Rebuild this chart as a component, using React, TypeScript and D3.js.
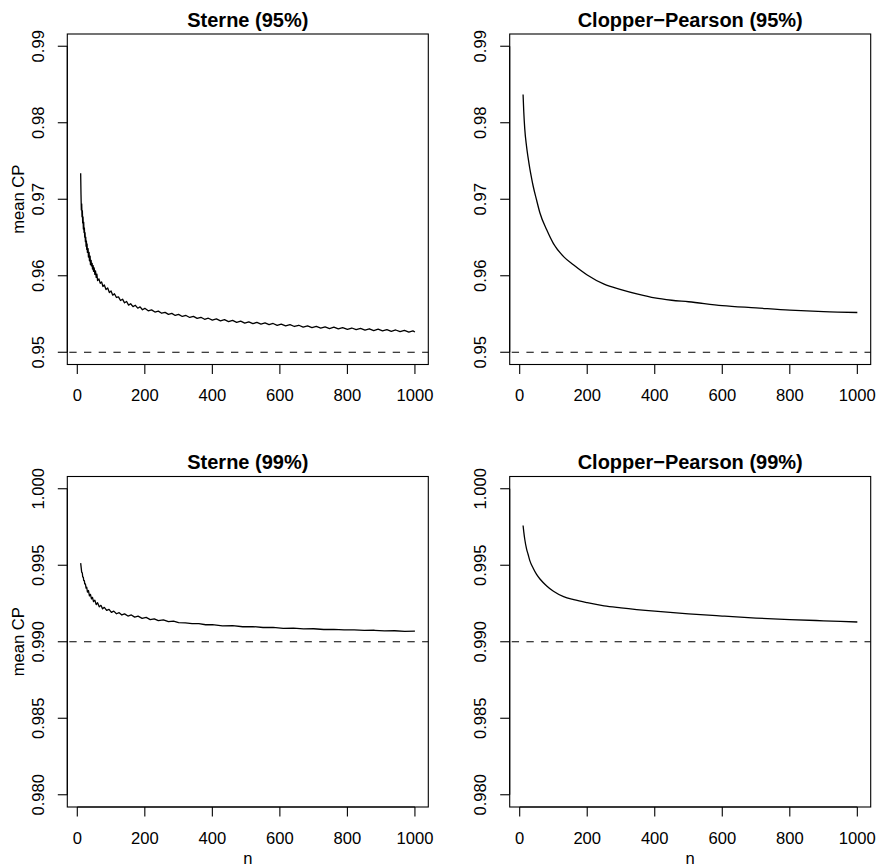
import React from 'react';
import * as d3 from 'd3';

const W = 878;
const H = 868;

// ---------- data ----------
const xTicks = [0, 200, 400, 600, 800, 1000];
const xTickLabels = ['0', '200', '400', '600', '800', '1000'];
const yTicks95 = [0.95, 0.96, 0.97, 0.98, 0.99];
const yTickLabels95 = ['0.95', '0.96', '0.97', '0.98', '0.99'];
const yTicks99 = [0.98, 0.985, 0.99, 0.995, 1.0];
const yTickLabels99 = ['0.980', '0.985', '0.990', '0.995', '1.000'];

const sterne95N = [
  10, 11, 12, 13, 14, 15, 16, 17, 18, 19, 20, 21, 22, 23, 24, 25, 26, 27, 28, 29, 30,
  32, 33, 35, 36, 38, 39, 41, 42, 44, 45, 47, 48, 50, 52, 54, 56, 58, 60,
  64, 68, 72, 76, 80, 85, 90, 95, 100, 105, 110, 116, 122, 128, 134, 140, 146, 152, 158, 165, 172, 179, 186, 193, 200,
  210, 220, 230, 240, 250, 260, 270, 280, 290, 300, 311, 322, 333, 344, 355, 366, 377, 388, 400,
  412, 424, 436, 448, 460, 472, 484, 496, 508, 520, 532, 544, 556, 568, 580, 592, 604, 617, 630, 643, 656, 669, 682, 695,
  708, 721, 734, 747, 760, 773, 786, 800, 813, 826, 839, 852, 865, 878, 891, 904, 917, 930, 943, 956, 969, 982, 994, 1000,
];
const sterne95CP = [
  0.9734, 0.9706, 0.9686, 0.9694, 0.9677, 0.9685, 0.9669, 0.9677, 0.9661, 0.967, 0.96565, 0.96625, 0.96505, 0.96565, 0.96445, 0.96505, 0.96385, 0.96455, 0.96345, 0.96415, 0.96305,
  0.96355, 0.96245, 0.96305, 0.96195, 0.96255, 0.96145, 0.96202, 0.96128, 0.96162, 0.96088, 0.96132, 0.96058, 0.96102, 0.96018, 0.96062, 0.95978, 0.96022, 0.95938,
  0.9596, 0.959, 0.9592, 0.9586, 0.9588, 0.9582, 0.9584, 0.9578, 0.958, 0.95746, 0.95764, 0.95716, 0.95724, 0.95676, 0.95694, 0.95646, 0.95664, 0.95616, 0.95634, 0.95596, 0.95614, 0.95576, 0.95594, 0.95556, 0.95574,
  0.95542, 0.95554, 0.95526, 0.95538, 0.9551, 0.95522, 0.95495, 0.95508, 0.95481, 0.95495, 0.95468, 0.95481, 0.95455, 0.95469, 0.95443, 0.95457, 0.95431, 0.95445, 0.9542,
  0.95436, 0.95411, 0.95426, 0.95401, 0.95416, 0.95391, 0.95406, 0.95381, 0.95398, 0.95374, 0.9539, 0.95367, 0.95383, 0.9536, 0.95376, 0.95352, 0.95369, 0.95345, 0.95361, 0.95337, 0.95353, 0.95329, 0.95345, 0.95321,
  0.95338, 0.95316, 0.95333, 0.9531, 0.95328, 0.95305, 0.95323, 0.953, 0.95317, 0.95295, 0.95312, 0.9529, 0.95307, 0.95284, 0.95302, 0.95279, 0.95297, 0.95274, 0.95291, 0.95269, 0.95286, 0.95264, 0.9528, 0.95265,
];

const cp95N = [10, 12, 15, 20, 25, 30, 35, 40, 50, 60, 80, 100, 130, 160, 200, 250, 300, 350, 400, 450, 500, 600, 700, 800, 900, 1000];
const cp95CP = [
  0.9837, 0.9815, 0.9792, 0.977, 0.9754, 0.974, 0.9728, 0.9717, 0.9699, 0.9682, 0.966, 0.9642, 0.9625, 0.9614, 0.9601,
  0.9589, 0.9582, 0.9576, 0.9571, 0.9568, 0.9566, 0.9561, 0.9558, 0.9555, 0.9553, 0.9552,
];

const sterne99N = [
  10, 13, 15, 16, 18, 19, 21, 22, 24, 26, 28, 30, 33, 36, 39, 42, 45, 48, 52, 56, 60, 65, 70, 75, 80, 87, 94,
  101, 108, 116, 124, 132, 140, 150, 160, 170, 180, 192, 204, 216, 228, 240, 255, 270, 285, 300,
  320, 340, 360, 380, 400, 430, 460, 490, 520, 550, 580, 610, 640, 670, 700, 730, 760, 790, 820, 850, 880, 910, 940, 970, 1000,
];
const sterne99CP = [
  0.99514, 0.99455, 0.99448, 0.99425, 0.9942, 0.994, 0.994, 0.99378, 0.99378, 0.9935, 0.99356, 0.99325, 0.99335, 0.993, 0.9931, 0.9928, 0.9929, 0.99262, 0.99272, 0.99243, 0.99255, 0.99228, 0.99238, 0.99215, 0.99225, 0.99205, 0.99212,
  0.99192, 0.992, 0.99183, 0.9919, 0.99175, 0.99182, 0.99168, 0.99175, 0.99161, 0.99167, 0.99153, 0.99159, 0.99145, 0.9915, 0.99138, 0.99143, 0.99131, 0.99135, 0.99125,
  0.99124, 0.99118, 0.99118, 0.99111, 0.99112, 0.99104, 0.99105, 0.99098, 0.99099, 0.99093, 0.99094, 0.99088, 0.99089, 0.99084, 0.99085, 0.9908, 0.99081, 0.99077, 0.99078, 0.99074, 0.99075, 0.99071, 0.99072, 0.99068, 0.99069,
];

const cp99N = [10, 12, 15, 20, 25, 30, 40, 50, 60, 80, 100, 130, 160, 200, 250, 300, 400, 500, 600, 700, 800, 900, 1000];
const cp99CP = [
  0.9976, 0.9972, 0.9967, 0.9961, 0.9957, 0.9953, 0.9948, 0.9944, 0.9941, 0.99365, 0.9933, 0.99295, 0.99275, 0.99255,
  0.99235, 0.99222, 0.992, 0.99182, 0.99168, 0.99155, 0.99145, 0.99137, 0.99129,
];

const titles = ['Sterne (95%)', 'Clopper\u2212Pearson (95%)', 'Sterne (99%)', 'Clopper\u2212Pearson (99%)'];
const nominal = [0.95, 0.95, 0.99, 0.99];
const xLabel = 'n';
const yLabel = 'mean CP';

// ---------- layout ----------
const BOX_W = 361;
const BOX_H = 330.5;
const FONT = '"Liberation Sans", Arial, Helvetica, sans-serif';

type Panel = {
  title: string;
  left: number;
  top: number;
  n: number[];
  cp: number[];
  ylim: [number, number];
  ticks: number[];
  tickLabels: string[];
  ref: number;
  showY: boolean;
  showX: boolean;
  smooth: boolean;
};

const panels: Panel[] = [
  { title: titles[0], left: 67.3, top: 34, n: sterne95N, cp: sterne95CP, ylim: [0.95, 0.99], ticks: yTicks95, tickLabels: yTickLabels95, ref: nominal[0], showY: true, showX: false, smooth: false },
  { title: titles[1], left: 509.7, top: 34, n: cp95N, cp: cp95CP, ylim: [0.95, 0.99], ticks: yTicks95, tickLabels: yTickLabels95, ref: nominal[1], showY: false, showX: false, smooth: true },
  { title: titles[2], left: 67.3, top: 476.5, n: sterne99N, cp: sterne99CP, ylim: [0.98, 1.0], ticks: yTicks99, tickLabels: yTickLabels99, ref: nominal[2], showY: true, showX: true, smooth: false },
  { title: titles[3], left: 509.7, top: 476.5, n: cp99N, cp: cp99CP, ylim: [0.98, 1.0], ticks: yTicks99, tickLabels: yTickLabels99, ref: nominal[3], showY: false, showX: true, smooth: true },
];

function PanelView({ p }: { p: Panel }) {
  const xmin = 10, xmax = 1000;
  const xpad = 0.04 * (xmax - xmin);
  const x = d3.scaleLinear().domain([xmin - xpad, xmax + xpad]).range([p.left, p.left + BOX_W]);
  const ypad = 0.04 * (p.ylim[1] - p.ylim[0]);
  const y = d3.scaleLinear().domain([p.ylim[0] - ypad, p.ylim[1] + ypad]).range([p.top + BOX_H, p.top]);
  const pts = p.n.map((nv, i) => [nv, p.cp[i]] as [number, number]);
  const line = d3
    .line<[number, number]>()
    .x((d) => x(d[0]))
    .y((d) => y(d[1]))
    .curve(p.smooth ? d3.curveMonotoneX : d3.curveLinear);
  const bottom = p.top + BOX_H;
  const cx = p.left + BOX_W / 2;
  const cy = p.top + BOX_H / 2;
  const tickLen = 9.5;
  return (
    <g>
      <text x={cx} y={p.top - 7.3} textAnchor="middle" fontFamily={FONT} fontWeight="bold" fontSize={20}>
        {p.title}
      </text>
      <rect x={p.left} y={p.top} width={BOX_W} height={BOX_H} fill="none" stroke="#000" strokeWidth={1.1} />
      {/* x axis */}
      <line x1={x(xTicks[0])} x2={x(xTicks[xTicks.length - 1])} y1={bottom} y2={bottom} stroke="#000" strokeWidth={1.1} />
      {xTicks.map((t, i) => (
        <g key={'x' + t}>
          <line x1={x(t)} x2={x(t)} y1={bottom} y2={bottom + tickLen} stroke="#000" strokeWidth={1.1} />
          <text x={x(t)} y={bottom + 36.8} textAnchor="middle" fontFamily={FONT} fontSize={16.6}>
            {xTickLabels[i]}
          </text>
        </g>
      ))}
      {/* y axis */}
      <line x1={p.left} x2={p.left} y1={y(p.ticks[0])} y2={y(p.ticks[p.ticks.length - 1])} stroke="#000" strokeWidth={1.1} />
      {p.ticks.map((t, i) => (
        <g key={'y' + t}>
          <line x1={p.left - tickLen} x2={p.left} y1={y(t)} y2={y(t)} stroke="#000" strokeWidth={1.1} />
          <text
            transform={`translate(${p.left - 23.8},${y(t)}) rotate(-90)`}
            textAnchor="middle"
            fontFamily={FONT}
            fontSize={16.6}
          >
            {p.tickLabels[i]}
          </text>
        </g>
      ))}
      {p.showY && (
        <text transform={`translate(24.3,${cy}) rotate(-90)`} textAnchor="middle" fontFamily={FONT} fontSize={16.6}>
          {yLabel}
        </text>
      )}
      {p.showX && (
        <text x={cx} y={bottom + 57} textAnchor="middle" fontFamily={FONT} fontSize={16.6}>
          {xLabel}
        </text>
      )}
      {/* nominal level */}
      <line
        x1={p.left}
        x2={p.left + BOX_W}
        y1={y(p.ref)}
        y2={y(p.ref)}
        stroke="#000"
        strokeWidth={1.1}
        strokeDasharray="7.35 7.35"
        strokeDashoffset={12.7}
      />
      <path d={line(pts) || ''} fill="none" stroke="#000" strokeWidth={1.3} strokeLinejoin="round" />
    </g>
  );
}

export default function App() {
  return (
    <svg
      width={W}
      height={H}
      viewBox={`0 0 ${W} ${H}`}
      style={{ position: 'absolute', left: 0, top: 0, background: '#fff' }}
    >
      <rect x={0} y={0} width={W} height={H} fill="#fff" />
      {panels.map((p, i) => (
        <PanelView key={i} p={p} />
      ))}
    </svg>
  );
}
